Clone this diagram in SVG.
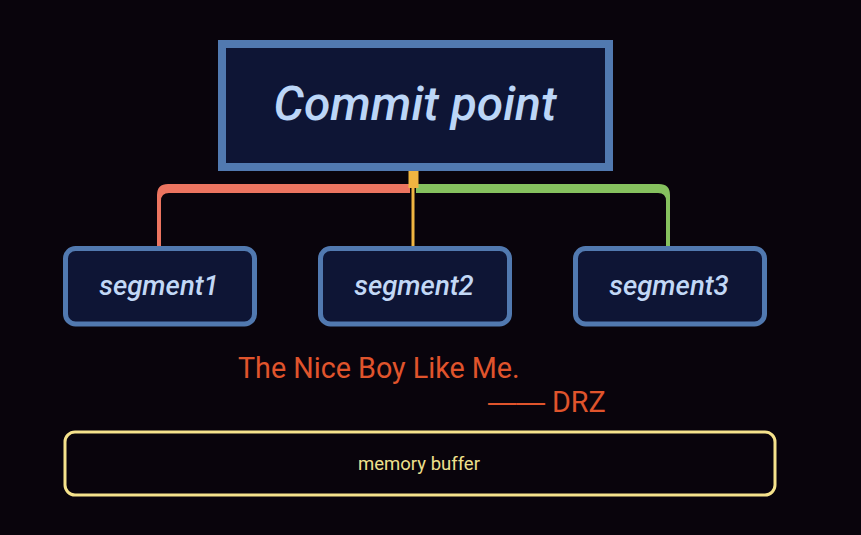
<svg xmlns="http://www.w3.org/2000/svg" width="861" height="535" viewBox="0 0 861 535">
<style>
.seg rect{fill:#0e1535;stroke:#5179b0;stroke-width:5}
.seg text{font-family:Roboto,"Liberation Sans",sans-serif;font-style:italic;font-weight:500;font-size:27.5px;fill:#c2d8f6;text-anchor:middle}
.quote{font-family:Roboto,"Liberation Sans",sans-serif;font-size:28.7px;fill:#e0542c}
</style>
<rect width="861" height="535" fill="#09040c"/>
<g id="connectors">
  <path d="M410,184 H168 Q157,184 157,195 V246 H161 V201 Q161,193 169,193 H410 Z" fill="#ec7460"/>
  <path d="M416,184 H659 Q670,184 670,195 V246 H666 V201 Q666,193 658,193 H416 Z" fill="#86c15f"/>
  <rect x="411.5" y="186" width="3" height="62" fill="#f0b541"/>
  <rect x="408.5" y="169" width="10" height="19" fill="#f0b541"/>
</g>
<g id="commit">
  <rect x="222" y="44" width="387" height="123" fill="#0e1535" stroke="#5179b0" stroke-width="8"/>
  <text x="415" y="120" font-family="Roboto,'Liberation Sans',sans-serif" font-style="italic" font-weight="500" font-size="48" fill="#bcd6f7" text-anchor="middle">Commit point</text>
</g>
<g id="segment1" class="seg">
  <rect x="65.5" y="248.5" width="189" height="75.5" rx="10"/>
  <text x="159" y="295">segment1</text>
</g>
<g id="segment2" class="seg">
  <rect x="320.5" y="248.5" width="189" height="75.5" rx="10"/>
  <text x="414" y="295">segment2</text>
</g>
<g id="segment3" class="seg">
  <rect x="575.5" y="248.5" width="189" height="75.5" rx="10"/>
  <text x="669" y="295">segment3</text>
</g>
<g id="quote">
  <text class="quote" x="238" y="378">The Nice Boy Like Me.</text>
  <text class="quote" y="412"><tspan x="488" font-family="'Liberation Sans',sans-serif" textLength="57" lengthAdjust="spacingAndGlyphs">——</tspan><tspan x="552">DRZ</tspan></text>
</g>
<g id="memory">
  <rect x="65" y="432" width="710" height="63" rx="10" fill="none" stroke="#f5e28c" stroke-width="3"/>
  <text x="419" y="470" font-family="Roboto,'Liberation Sans',sans-serif" font-size="18.5" fill="#efe08c" text-anchor="middle">memory buffer</text>
</g>
</svg>
